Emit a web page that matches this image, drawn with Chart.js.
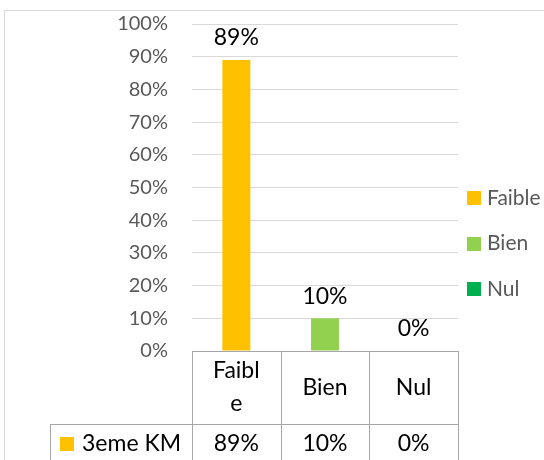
<!DOCTYPE html>
<html>
<head>
<meta charset="utf-8">
<script src="https://cdn.jsdelivr.net/npm/chart.js@4.4.0/dist/chart.umd.min.js"></script>
<style>
    html, body { margin: 0; padding: 0; background: #fff; }
</style>
</head>
<body>
<canvas id="chart" width="544" height="460"></canvas>
<script>
const categories = ['Faible', 'Bien', 'Nul'];
const seriesName = '3eme KM';
const values = [89, 10, 0];
const barColors = ['#FFC000', '#92D050', '#00B050'];

const FONT = 'Lato, "Open Sans", sans-serif';

// light frame of the chart object (cut off at right/bottom)
const frame = {
    id: 'frame',
    beforeDraw(chart) {
        const ctx = chart.ctx;
        ctx.save();
        ctx.fillStyle = '#fff';
        ctx.fillRect(0, 0, chart.width, chart.height);
        ctx.strokeStyle = '#D9D9D9';
        ctx.lineWidth = 1;
        ctx.strokeRect(4.5, 10.5, chart.width + 20, chart.height + 20);
        ctx.restore();
    }
};

const barLabels = {
    id: 'barLabels',
    afterDatasetsDraw(chart) {
        const ctx = chart.ctx;
        const meta = chart.getDatasetMeta(0);
        ctx.save();
        ctx.font = '23px ' + FONT;
        ctx.fillStyle = '#000';
        ctx.textAlign = 'center';
        ctx.textBaseline = 'middle';
        meta.data.forEach((bar, i) => {
            ctx.fillText(values[i] + '%', bar.x, bar.y - 22);
        });
        ctx.restore();
    }
};

function wrapChars(ctx, text, maxWidth) {
    const lines = [];
    let line = '';
    for (const ch of text) {
        if (line && ctx.measureText(line + ch).width > maxWidth) {
            lines.push(line);
            line = ch;
        } else {
            line += ch;
        }
    }
    lines.push(line);
    return lines;
}

const legendBox = {
    id: 'legendBox',
    afterDraw(chart) {
        const ctx = chart.ctx;
        ctx.save();
        ctx.font = '21px ' + FONT;
        ctx.textBaseline = 'middle';
        ctx.textAlign = 'left';
        categories.forEach((c, i) => {
            const cy = 198 + i * 45.5;
            ctx.fillStyle = barColors[i];
            ctx.fillRect(467, Math.round(cy - 7), 14, 14);
            ctx.fillStyle = '#595959';
            ctx.fillText(c, 487, cy);
        });
        ctx.restore();
    }
};

const dataTable = {
    id: 'dataTable',
    afterDraw(chart) {
        const ctx = chart.ctx;
        const xs = chart.scales.x;
        const area = chart.chartArea;
        const cw = (area.right - area.left) / categories.length;
        const top = Math.round(area.bottom);
        const mid = top + 73;
        const bottom = chart.height + 10;
        const keyLeft = 50;

        ctx.save();
        ctx.strokeStyle = '#A6A6A6';
        ctx.lineWidth = 1;
        ctx.beginPath();
        ctx.moveTo(area.left, top + 0.5);
        ctx.lineTo(area.right + 1, top + 0.5);
        ctx.moveTo(keyLeft, mid + 0.5);
        ctx.lineTo(area.right + 1, mid + 0.5);
        ctx.moveTo(keyLeft + 0.5, mid);
        ctx.lineTo(keyLeft + 0.5, bottom);
        for (let i = 0; i <= categories.length; i++) {
            const px = Math.round(xs.getPixelForValue(i) - cw / 2) + 0.5;
            ctx.moveTo(px, top);
            ctx.lineTo(px, bottom);
        }
        ctx.stroke();

        ctx.font = '23px ' + FONT;
        ctx.fillStyle = '#000';
        ctx.textAlign = 'center';
        ctx.textBaseline = 'middle';
        categories.forEach((c, i) => {
            const cx = xs.getPixelForValue(i);
            const lines = wrapChars(ctx, c, cw * 0.62);
            const lh = 33;
            const y0 = (top + mid) / 2 - (lines.length - 1) * lh / 2;
            lines.forEach((l, j) => ctx.fillText(l, cx, y0 + j * lh));
            ctx.fillText(values[i] + '%', cx, mid + 20);
        });

        ctx.fillStyle = barColors[0];
        ctx.fillRect(60, mid + 13, 14, 14);
        ctx.fillStyle = '#000';
        ctx.textAlign = 'left';
        ctx.fillText(seriesName, 82, mid + 20);
        ctx.restore();
    }
};

const ctx = document.getElementById('chart').getContext('2d');
new Chart(ctx, {
    type: 'bar',
    data: {
        labels: categories,
        datasets: [{
            label: seriesName,
            data: values,
            backgroundColor: barColors,
            borderWidth: 0,
            categoryPercentage: 1,
            barPercentage: 0.315
        }]
    },
    options: {
        responsive: false,
        animation: false,
        layout: {
            padding: { left: 0, top: 24, right: 86, bottom: 109 }
        },
        scales: {
            x: {
                display: false
            },
            y: {
                min: 0,
                max: 100,
                border: { display: false },
                grid: { color: '#D9D9D9', drawTicks: false },
                ticks: {
                    stepSize: 10,
                    padding: 24,
                    color: '#595959',
                    font: { family: FONT, size: 20 },
                    callback: v => v + '%'
                },
                afterFit(scale) {
                    scale.width = 192;
                    scale.paddingTop = 0;
                    scale.paddingBottom = 0;
                }
            }
        },
        plugins: {
            legend: { display: false },
            tooltip: { enabled: false }
        }
    },
    plugins: [frame, barLabels, legendBox, dataTable]
});
</script>
</body>
</html>
